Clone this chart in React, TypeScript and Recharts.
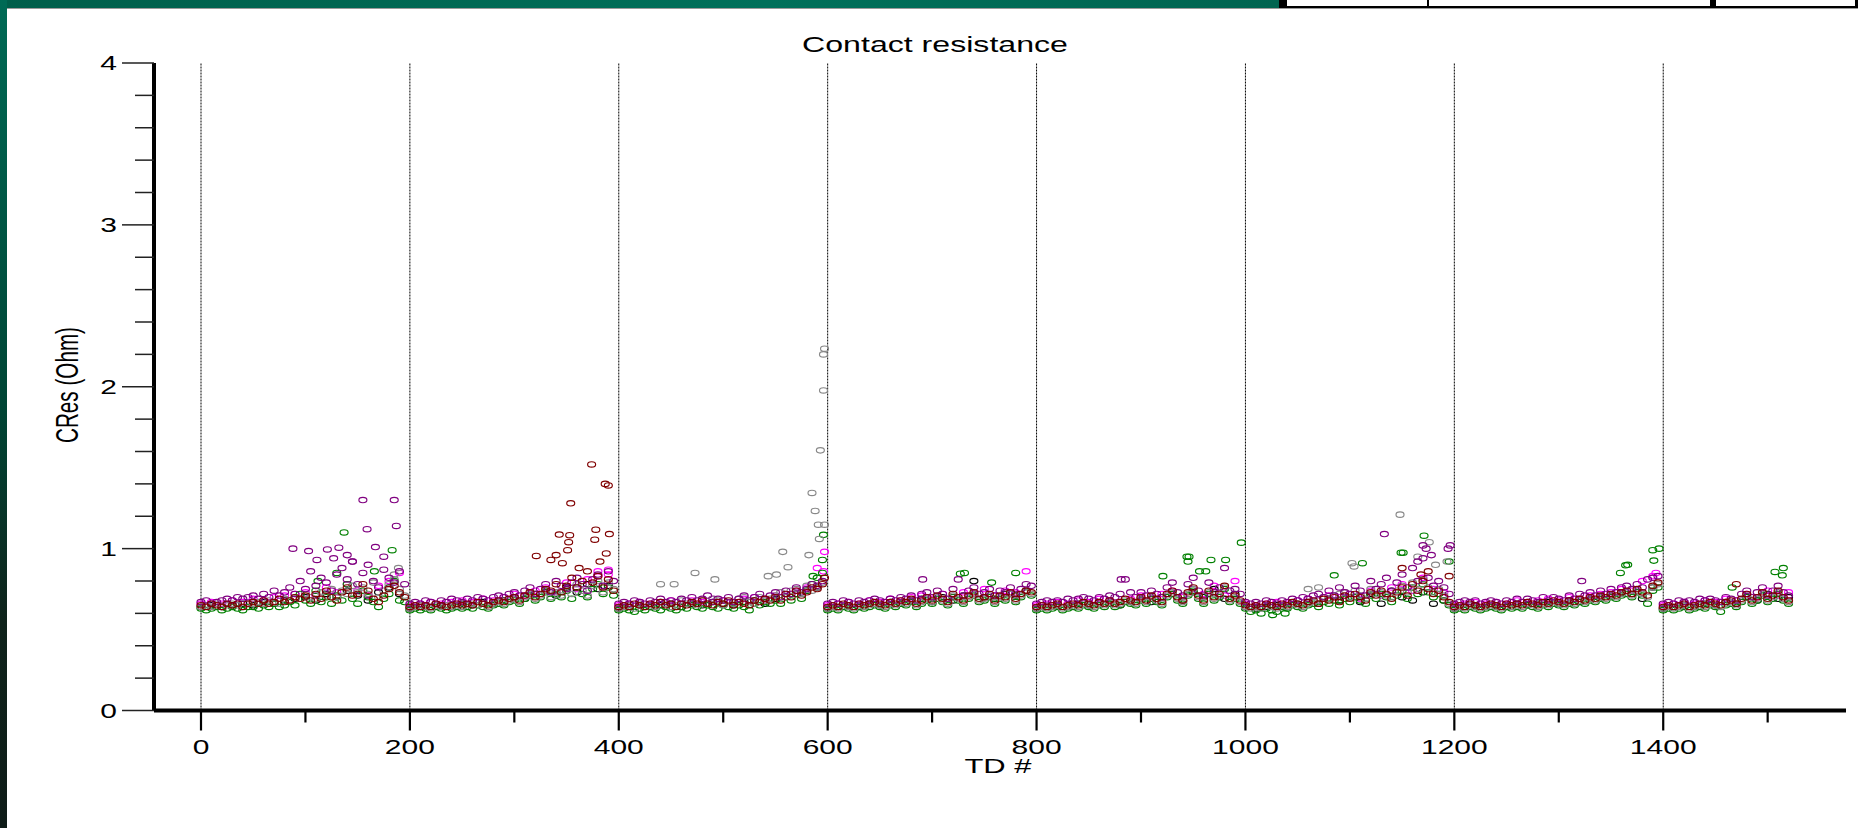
import React from "react";
import { ReferenceLine, Scatter, ScatterChart, XAxis, YAxis } from "recharts";

// TD sample grids
const TD5 = [
  0, 5, 10, 15, 20, 25, 30, 35, 40, 45, 50, 55, 60, 65, 70, 75, 80, 85, 90, 95,
  100, 105, 110, 115, 120, 125, 130, 135, 140, 145, 150, 155, 160, 165, 170, 175, 180, 185, 190, 195,
  200, 205, 210, 215, 220, 225, 230, 235, 240, 245, 250, 255, 260, 265, 270, 275, 280, 285, 290, 295,
  300, 305, 310, 315, 320, 325, 330, 335, 340, 345, 350, 355, 360, 365, 370, 375, 380, 385, 390, 395,
  400, 405, 410, 415, 420, 425, 430, 435, 440, 445, 450, 455, 460, 465, 470, 475, 480, 485, 490, 495,
  500, 505, 510, 515, 520, 525, 530, 535, 540, 545, 550, 555, 560, 565, 570, 575, 580, 585, 590, 595,
  600, 605, 610, 615, 620, 625, 630, 635, 640, 645, 650, 655, 660, 665, 670, 675, 680, 685, 690, 695,
  700, 705, 710, 715, 720, 725, 730, 735, 740, 745, 750, 755, 760, 765, 770, 775, 780, 785, 790, 795,
  800, 805, 810, 815, 820, 825, 830, 835, 840, 845, 850, 855, 860, 865, 870, 875, 880, 885, 890, 895,
  900, 905, 910, 915, 920, 925, 930, 935, 940, 945, 950, 955, 960, 965, 970, 975, 980, 985, 990, 995,
  1000, 1005, 1010, 1015, 1020, 1025, 1030, 1035, 1040, 1045, 1050, 1055, 1060, 1065, 1070, 1075, 1080, 1085, 1090, 1095,
  1100, 1105, 1110, 1115, 1120, 1125, 1130, 1135, 1140, 1145, 1150, 1155, 1160, 1165, 1170, 1175, 1180, 1185, 1190, 1195,
  1200, 1205, 1210, 1215, 1220, 1225, 1230, 1235, 1240, 1245, 1250, 1255, 1260, 1265, 1270, 1275, 1280, 1285, 1290, 1295,
  1300, 1305, 1310, 1315, 1320, 1325, 1330, 1335, 1340, 1345, 1350, 1355, 1360, 1365, 1370, 1375, 1380, 1385, 1390, 1395,
  1400, 1405, 1410, 1415, 1420, 1425, 1430, 1435, 1440, 1445, 1450, 1455, 1460, 1465, 1470, 1475, 1480, 1485, 1490, 1495,
  1500, 1505, 1510, 1515, 1520,
];

const TD10 = [
  0, 10, 20, 30, 40, 50, 60, 70, 80, 90, 100, 110, 120, 130, 140, 150, 160, 170, 180, 190,
  200, 210, 220, 230, 240, 250, 260, 270, 280, 290, 300, 310, 320, 330, 340, 350, 360, 370, 380, 390,
  400, 410, 420, 430, 440, 450, 460, 470, 480, 490, 500, 510, 520, 530, 540, 550, 560, 570, 580, 590,
  600, 610, 620, 630, 640, 650, 660, 670, 680, 690, 700, 710, 720, 730, 740, 750, 760, 770, 780, 790,
  800, 810, 820, 830, 840, 850, 860, 870, 880, 890, 900, 910, 920, 930, 940, 950, 960, 970, 980, 990,
  1000, 1010, 1020, 1030, 1040, 1050, 1060, 1070, 1080, 1090, 1100, 1110, 1120, 1130, 1140, 1150, 1160, 1170, 1180, 1190,
  1200, 1210, 1220, 1230, 1240, 1250, 1260, 1270, 1280, 1290, 1300, 1310, 1320, 1330, 1340, 1350, 1360, 1370, 1380, 1390,
  1400, 1410, 1420, 1430, 1440, 1450, 1460, 1470, 1480, 1490, 1500, 1510, 1520,
];

// contact resistance (Ohm) per site, on TD5 grid
const darkRed = [
  0.65, 0.64, 0.66, 0.65, 0.64, 0.66, 0.65, 0.66, 0.64, 0.66, 0.67, 0.66, 0.68, 0.66, 0.67, 0.69, 0.67, 0.68, 0.70, 0.69,
  0.71, 0.68, 0.72, 0.69, 0.74, 0.70, 0.68, 0.73, 0.76, 0.71, 0.72, 0.78, 0.74, 0.69, 0.67, 0.71, 0.75, 0.77, 0.73, 0.70,
  0.64, 0.65, 0.64, 0.65, 0.64, 0.66, 0.65, 0.64, 0.65, 0.66, 0.65, 0.66, 0.65, 0.67, 0.66, 0.65, 0.67, 0.68, 0.67, 0.69,
  0.70, 0.68, 0.71, 0.73, 0.70, 0.72, 0.75, 0.74, 0.78, 0.73, 0.77, 0.82, 0.76, 0.80, 0.86, 0.79, 0.83, 0.76, 0.81, 0.74,
  0.64, 0.65, 0.64, 0.66, 0.65, 0.64, 0.66, 0.65, 0.67, 0.65, 0.66, 0.64, 0.66, 0.65, 0.67, 0.66, 0.68, 0.66, 0.65, 0.67,
  0.66, 0.68, 0.65, 0.67, 0.66, 0.65, 0.68, 0.67, 0.69, 0.68, 0.70, 0.68, 0.72, 0.70, 0.74, 0.71, 0.73, 0.76, 0.75, 0.78,
  0.64, 0.65, 0.64, 0.66, 0.65, 0.64, 0.66, 0.65, 0.66, 0.67, 0.66, 0.65, 0.67, 0.66, 0.68, 0.67, 0.69, 0.66, 0.68, 0.70,
  0.68, 0.71, 0.69, 0.67, 0.72, 0.70, 0.68, 0.71, 0.73, 0.69, 0.70, 0.72, 0.68, 0.71, 0.70, 0.73, 0.69, 0.72, 0.74, 0.73,
  0.64, 0.65, 0.64, 0.65, 0.66, 0.64, 0.65, 0.66, 0.65, 0.67, 0.66, 0.65, 0.67, 0.66, 0.68, 0.66, 0.67, 0.69, 0.68, 0.67,
  0.70, 0.68, 0.71, 0.69, 0.67, 0.72, 0.74, 0.70, 0.68, 0.73, 0.76, 0.71, 0.68, 0.74, 0.70, 0.72, 0.77, 0.69, 0.71, 0.68,
  0.65, 0.64, 0.65, 0.64, 0.66, 0.65, 0.64, 0.66, 0.65, 0.67, 0.66, 0.65, 0.67, 0.68, 0.66, 0.69, 0.68, 0.70, 0.67, 0.71,
  0.69, 0.72, 0.70, 0.68, 0.73, 0.71, 0.74, 0.72, 0.69, 0.73, 0.76, 0.71, 0.78, 0.74, 0.80, 0.75, 0.72, 0.74, 0.70, 0.67,
  0.64, 0.65, 0.64, 0.66, 0.65, 0.64, 0.65, 0.66, 0.65, 0.64, 0.66, 0.65, 0.66, 0.65, 0.67, 0.66, 0.65, 0.67, 0.66, 0.68,
  0.67, 0.66, 0.68, 0.67, 0.69, 0.68, 0.70, 0.69, 0.71, 0.70, 0.72, 0.71, 0.73, 0.74, 0.72, 0.75, 0.73, 0.71, 0.77, 0.79,
  0.64, 0.65, 0.64, 0.65, 0.66, 0.64, 0.65, 0.66, 0.65, 0.67, 0.66, 0.65, 0.67, 0.68, 0.66, 0.69, 0.72, 0.68, 0.70, 0.73,
  0.69, 0.71, 0.74, 0.70, 0.68,
];

const purple = [
  0.67, 0.68, 0.66, 0.67, 0.68, 0.69, 0.68, 0.70, 0.69, 0.70, 0.71, 0.69, 0.72, 0.70, 0.74, 0.71, 0.73, 0.76, 0.72, 0.80,
  0.75, 0.86, 0.77, 0.82, 0.79, 0.74, 0.84, 0.88, 0.81, 0.92, 0.78, 0.85, 0.90, 0.80, 0.76, 0.87, 0.82, 0.79, 0.86, 0.78,
  0.66, 0.67, 0.66, 0.68, 0.67, 0.66, 0.68, 0.67, 0.69, 0.68, 0.67, 0.69, 0.68, 0.70, 0.69, 0.68, 0.70, 0.71, 0.70, 0.72,
  0.73, 0.71, 0.74, 0.76, 0.72, 0.75, 0.78, 0.73, 0.80, 0.77, 0.75, 0.79, 0.82, 0.78, 0.74, 0.81, 0.84, 0.77, 0.86, 0.80,
  0.66, 0.67, 0.66, 0.68, 0.67, 0.66, 0.68, 0.67, 0.69, 0.67, 0.68, 0.67, 0.69, 0.68, 0.70, 0.68, 0.69, 0.71, 0.67, 0.69,
  0.68, 0.70, 0.67, 0.69, 0.71, 0.68, 0.70, 0.72, 0.69, 0.71, 0.73, 0.70, 0.74, 0.72, 0.76, 0.73, 0.75, 0.78, 0.77, 0.80,
  0.66, 0.67, 0.66, 0.68, 0.67, 0.66, 0.68, 0.67, 0.68, 0.69, 0.68, 0.67, 0.69, 0.68, 0.70, 0.69, 0.71, 0.68, 0.72, 0.73,
  0.70, 0.74, 0.72, 0.69, 0.75, 0.81, 0.71, 0.74, 0.76, 0.72, 0.73, 0.75, 0.71, 0.74, 0.73, 0.76, 0.72, 0.75, 0.78, 0.77,
  0.66, 0.67, 0.68, 0.67, 0.68, 0.67, 0.69, 0.68, 0.69, 0.70, 0.69, 0.68, 0.70, 0.69, 0.71, 0.70, 0.72, 0.81, 0.73, 0.70,
  0.73, 0.71, 0.74, 0.72, 0.70, 0.76, 0.79, 0.73, 0.71, 0.78, 0.82, 0.74, 0.71, 0.79, 0.73, 0.76, 0.88, 0.74, 0.75, 0.72,
  0.67, 0.66, 0.67, 0.66, 0.68, 0.67, 0.66, 0.68, 0.67, 0.69, 0.68, 0.70, 0.69, 0.71, 0.72, 0.70, 0.74, 0.71, 0.76, 0.73,
  0.72, 0.77, 0.74, 0.71, 0.80, 0.75, 0.78, 0.82, 0.74, 0.79, 0.84, 0.76, 0.88, 0.80, 0.94, 0.82, 0.77, 0.80, 0.76, 0.72,
  0.66, 0.67, 0.68, 0.67, 0.68, 0.66, 0.67, 0.68, 0.67, 0.66, 0.68, 0.67, 0.69, 0.67, 0.69, 0.68, 0.67, 0.70, 0.68, 0.70,
  0.69, 0.68, 0.71, 0.69, 0.72, 0.71, 0.73, 0.71, 0.74, 0.72, 0.75, 0.73, 0.76, 0.77, 0.75, 0.78, 0.76, 0.81, 0.82, 0.83,
  0.66, 0.67, 0.66, 0.68, 0.67, 0.68, 0.67, 0.69, 0.68, 0.69, 0.68, 0.67, 0.70, 0.69, 0.68, 0.72, 0.74, 0.70, 0.73, 0.76,
  0.71, 0.74, 0.77, 0.73, 0.71,
];

const green = [
  0.63, 0.62, 0.63, 0.64, 0.62, 0.63, 0.64, 0.63, 0.62, 0.64, 0.64, 0.63, 0.65, 0.64, 0.66, 0.64, 0.65, 0.67, 0.65, 0.72,
  0.68, 0.66, 0.74, 0.67, 0.70, 0.66, 0.71, 0.68, 0.78, 0.69, 0.66, 0.74, 0.70, 0.67, 0.64, 0.69, 0.72, 0.80, 0.68, 0.67,
  0.62, 0.63, 0.62, 0.63, 0.62, 0.64, 0.63, 0.62, 0.63, 0.64, 0.63, 0.64, 0.63, 0.65, 0.64, 0.63, 0.65, 0.66, 0.65, 0.67,
  0.68, 0.66, 0.69, 0.71, 0.68, 0.70, 0.73, 0.69, 0.72, 0.70, 0.74, 0.69, 0.76, 0.72, 0.70, 0.75, 0.78, 0.72, 0.76, 0.71,
  0.62, 0.63, 0.62, 0.61, 0.63, 0.62, 0.64, 0.63, 0.62, 0.64, 0.63, 0.62, 0.64, 0.63, 0.65, 0.64, 0.63, 0.65, 0.64, 0.63,
  0.65, 0.64, 0.63, 0.65, 0.64, 0.62, 0.66, 0.65, 0.67, 0.66, 0.68, 0.66, 0.70, 0.68, 0.72, 0.69, 0.74, 0.78, 0.82, 0.85,
  0.62, 0.63, 0.62, 0.64, 0.63, 0.62, 0.64, 0.63, 0.64, 0.65, 0.64, 0.63, 0.65, 0.64, 0.66, 0.65, 0.67, 0.64, 0.66, 0.68,
  0.66, 0.69, 0.67, 0.65, 0.70, 0.68, 0.66, 0.69, 0.71, 0.67, 0.68, 0.70, 0.66, 0.69, 0.68, 0.72, 0.67, 0.70, 0.73, 0.71,
  0.62, 0.63, 0.62, 0.63, 0.64, 0.62, 0.63, 0.64, 0.63, 0.65, 0.64, 0.63, 0.65, 0.64, 0.66, 0.64, 0.65, 0.67, 0.66, 0.65,
  0.68, 0.66, 0.69, 0.67, 0.65, 0.70, 0.72, 0.68, 0.66, 0.71, 0.74, 0.69, 0.66, 0.72, 0.68, 0.70, 0.75, 0.67, 0.69, 0.66,
  0.63, 0.61, 0.62, 0.60, 0.63, 0.62, 0.61, 0.64, 0.63, 0.65, 0.64, 0.63, 0.65, 0.66, 0.64, 0.67, 0.66, 0.68, 0.65, 0.69,
  0.67, 0.70, 0.68, 0.66, 0.71, 0.69, 0.72, 0.70, 0.67, 0.71, 0.74, 0.69, 0.76, 0.72, 0.78, 0.73, 0.70, 0.72, 0.68, 0.65,
  0.62, 0.63, 0.62, 0.64, 0.63, 0.62, 0.63, 0.64, 0.63, 0.62, 0.64, 0.63, 0.64, 0.63, 0.65, 0.64, 0.63, 0.65, 0.64, 0.66,
  0.65, 0.64, 0.66, 0.65, 0.67, 0.66, 0.68, 0.67, 0.69, 0.68, 0.70, 0.69, 0.71, 0.72, 0.70, 0.73, 0.71, 0.66, 0.74, 0.76,
  0.62, 0.63, 0.62, 0.63, 0.64, 0.62, 0.63, 0.64, 0.63, 0.65, 0.64, 0.61, 0.65, 0.66, 0.64, 0.67, 0.70, 0.66, 0.68, 0.71,
  0.67, 0.69, 0.72, 0.68, 0.66,
];

const gray = [
  0.64, 0.65, 0.64, 0.66, 0.64, 0.65, 0.66, 0.65, 0.64, 0.66, 0.66, 0.67, 0.66, 0.68, 0.67, 0.66, 0.69, 0.68, 0.70, 0.69,
  0.72, 0.70, 0.69, 0.73, 0.71, 0.75, 0.70, 0.74, 0.72, 0.77, 0.73, 0.76, 0.72, 0.79, 0.70, 0.74, 0.78, 0.81, 0.75, 0.71,
  0.63, 0.64, 0.65, 0.64, 0.63, 0.65, 0.64, 0.65, 0.64, 0.65, 0.64, 0.65, 0.66, 0.65, 0.66, 0.64, 0.66, 0.67, 0.66, 0.68,
  0.69, 0.67, 0.70, 0.72, 0.69, 0.71, 0.74, 0.70, 0.73, 0.71, 0.75, 0.72, 0.78, 0.74, 0.71, 0.77, 0.80, 0.73, 0.79, 0.75,
  0.63, 0.64, 0.65, 0.63, 0.66, 0.64, 0.65, 0.64, 0.67, 0.66, 0.64, 0.65, 0.68, 0.66, 0.67, 0.65, 0.68, 0.66, 0.69, 0.68,
  0.65, 0.67, 0.66, 0.69, 0.70, 0.67, 0.66, 0.70, 0.68, 0.69, 0.71, 0.73, 0.70, 0.74, 0.75, 0.72, 0.77, 0.74, 0.76, 0.79,
  0.63, 0.64, 0.63, 0.65, 0.64, 0.63, 0.65, 0.64, 0.65, 0.66, 0.65, 0.64, 0.66, 0.65, 0.67, 0.66, 0.68, 0.65, 0.67, 0.69,
  0.67, 0.70, 0.68, 0.66, 0.71, 0.69, 0.67, 0.70, 0.72, 0.68, 0.69, 0.71, 0.67, 0.70, 0.69, 0.72, 0.68, 0.71, 0.73, 0.72,
  0.63, 0.64, 0.63, 0.64, 0.65, 0.63, 0.64, 0.65, 0.64, 0.66, 0.65, 0.64, 0.66, 0.65, 0.67, 0.65, 0.66, 0.68, 0.67, 0.66,
  0.69, 0.67, 0.70, 0.68, 0.66, 0.71, 0.73, 0.69, 0.67, 0.72, 0.75, 0.70, 0.67, 0.73, 0.69, 0.71, 0.76, 0.68, 0.70, 0.67,
  0.64, 0.63, 0.64, 0.63, 0.65, 0.64, 0.63, 0.65, 0.64, 0.66, 0.65, 0.64, 0.66, 0.67, 0.68, 0.70, 0.69, 0.71, 0.72, 0.73,
  0.70, 0.74, 0.71, 0.69, 0.75, 0.72, 0.73, 0.71, 0.70, 0.74, 0.77, 0.73, 0.79, 0.75, 0.81, 0.76, 0.73, 0.75, 0.71, 0.66,
  0.63, 0.64, 0.63, 0.65, 0.64, 0.63, 0.64, 0.65, 0.64, 0.63, 0.65, 0.64, 0.65, 0.64, 0.66, 0.65, 0.64, 0.66, 0.65, 0.67,
  0.66, 0.65, 0.67, 0.66, 0.68, 0.67, 0.69, 0.68, 0.70, 0.69, 0.71, 0.70, 0.72, 0.73, 0.71, 0.74, 0.72, 0.70, 0.76, 0.78,
  0.63, 0.64, 0.63, 0.64, 0.65, 0.63, 0.64, 0.65, 0.64, 0.66, 0.65, 0.64, 0.66, 0.67, 0.65, 0.68, 0.71, 0.67, 0.69, 0.72,
  0.68, 0.70, 0.73, 0.69, 0.67,
];

// on TD10 grid
const black = [
  0.64, 0.65, 0.64, 0.65, 0.66, 0.65, 0.67, 0.66, 0.68, 0.69, 0.70, 0.68, 0.72, 0.70, 0.74, 0.71, 0.68, 0.73, 0.76, 0.72,
  0.63, 0.64, 0.64, 0.65, 0.64, 0.66, 0.65, 0.67, 0.66, 0.68, 0.70, 0.69, 0.72, 0.74, 0.71, 0.76, 0.73, 0.78, 0.75, 0.77,
  0.63, 0.64, 0.65, 0.64, 0.65, 0.66, 0.64, 0.66, 0.65, 0.67, 0.66, 0.65, 0.67, 0.68, 0.66, 0.69, 0.70, 0.72, 0.74, 0.76,
  0.63, 0.64, 0.65, 0.64, 0.66, 0.65, 0.67, 0.66, 0.68, 0.69, 0.67, 0.70, 0.68, 0.71, 0.80, 0.70, 0.69, 0.72, 0.71, 0.74,
  0.63, 0.64, 0.65, 0.64, 0.66, 0.65, 0.67, 0.66, 0.65, 0.67, 0.69, 0.67, 0.70, 0.72, 0.68, 0.73, 0.70, 0.75, 0.69, 0.72,
  0.64, 0.63, 0.64, 0.65, 0.64, 0.66, 0.67, 0.66, 0.69, 0.68, 0.70, 0.67, 0.72, 0.66, 0.74, 0.70, 0.68, 0.73, 0.66, 0.68,
  0.63, 0.64, 0.65, 0.64, 0.65, 0.64, 0.66, 0.65, 0.66, 0.67, 0.66, 0.68, 0.67, 0.69, 0.70, 0.71, 0.73, 0.72, 0.69, 0.76,
  0.63, 0.64, 0.65, 0.64, 0.66, 0.65, 0.67, 0.66, 0.70, 0.68, 0.72, 0.69, 0.70,
];

const magenta = [
  0.66, 0.67, 0.66, 0.68, 0.67, 0.69, 0.68, 0.70, 0.71, 0.72, 0.73, 0.71, 0.76, 0.73, 0.78, 0.74, 0.71, 0.77, 0.80, 0.85,
  0.65, 0.66, 0.67, 0.66, 0.67, 0.68, 0.67, 0.69, 0.68, 0.70, 0.72, 0.71, 0.74, 0.76, 0.73, 0.79, 0.75, 0.81, 0.83, 0.87,
  0.65, 0.66, 0.67, 0.66, 0.67, 0.68, 0.66, 0.68, 0.67, 0.69, 0.68, 0.67, 0.69, 0.70, 0.68, 0.71, 0.72, 0.74, 0.76, 0.88,
  0.65, 0.66, 0.67, 0.66, 0.68, 0.67, 0.69, 0.68, 0.70, 0.71, 0.69, 0.72, 0.70, 0.73, 0.72, 0.75, 0.71, 0.74, 0.73, 0.86,
  0.65, 0.66, 0.67, 0.66, 0.68, 0.67, 0.69, 0.68, 0.67, 0.69, 0.71, 0.69, 0.72, 0.74, 0.70, 0.75, 0.72, 0.77, 0.71, 0.80,
  0.66, 0.65, 0.66, 0.67, 0.66, 0.68, 0.69, 0.68, 0.71, 0.70, 0.72, 0.69, 0.74, 0.71, 0.76, 0.78, 0.74, 0.82, 0.75, 0.73,
  0.65, 0.66, 0.67, 0.66, 0.67, 0.66, 0.68, 0.67, 0.68, 0.69, 0.68, 0.70, 0.69, 0.71, 0.72, 0.73, 0.75, 0.74, 0.80, 0.83,
  0.65, 0.66, 0.67, 0.66, 0.68, 0.67, 0.69, 0.68, 0.72, 0.70, 0.74, 0.71, 0.73,
];

// outliers [TD, Ohm]
const darkRedSpikes = [
  [374, 1.52], [387, 1.4], [390, 1.39], [354, 1.28], [343, 1.087], [353, 1.083], [352, 1.04], [378, 1.117],
  [377, 1.055], [391, 1.09], [351, 0.99], [340, 0.96], [321, 0.955], [335, 0.93], [346, 0.91], [362, 0.88],
  [382, 0.92], [388, 0.97], [597, 0.82], [1175, 0.86], [1150, 0.88], [1168, 0.84], [1470, 0.78], [1195, 0.83],
];
const purpleSpikes = [
  [88, 1.0], [103, 0.985], [121, 0.995], [132, 1.006], [155, 1.3], [159, 1.12], [167, 1.01], [185, 1.3],
  [187, 1.14], [111, 0.93], [127, 0.94], [140, 0.96], [145, 0.92], [175, 0.95], [1133, 1.09], [1170, 1.02],
  [1173, 1.0], [1196, 1.02], [1194, 1.0], [1322, 0.8], [881, 0.81], [691, 0.81], [1178, 0.96], [1165, 0.92],
];
const greenSpikes = [
  [137, 1.1], [183, 0.99], [130, 0.85], [166, 0.86], [112, 0.8], [596, 1.085], [595, 0.93], [586, 0.83],
  [727, 0.845], [731, 0.85], [757, 0.79], [780, 0.85], [944, 0.95], [946, 0.95], [945, 0.92], [967, 0.93],
  [981, 0.93], [962, 0.86], [956, 0.86], [921, 0.83], [996, 1.037], [1085, 0.835], [1112, 0.91], [1149, 0.975],
  [1151, 0.975], [1171, 1.08], [1195, 0.92], [1359, 0.85], [1364, 0.897], [1366, 0.9], [1390, 0.99], [1396, 1.0],
  [1391, 0.926], [1466, 0.76], [1507, 0.856], [1514, 0.835], [1515, 0.88], [1026, 0.59], [1038, 0.6],
];
const graySpikes = [
  [440, 0.78], [453, 0.78], [473, 0.85], [492, 0.81], [543, 0.83], [551, 0.84], [557, 0.98], [562, 0.885],
  [582, 0.96], [585, 1.344], [588, 1.233], [591, 1.148], [597, 1.148], [593, 1.607], [596, 1.977], [596, 2.2],
  [597, 2.235], [592, 1.06], [189, 0.88], [185, 0.84], [1148, 1.21], [1102, 0.91], [1104, 0.89], [1176, 1.04],
  [1165, 0.95], [1193, 0.92], [1182, 0.9], [1070, 0.76], [1060, 0.75],
];
const magentaSpikes = [[597, 0.98], [596, 0.86], [380, 0.86], [390, 0.84], [1393, 0.85]];

const X_TICKS = [0, 100, 200, 300, 400, 500, 600, 700, 800, 900, 1000, 1100, 1200, 1300, 1400, 1500];
const GRID_TD = [0, 200, 400, 600, 800, 1000, 1200, 1400];
const Y_TICKS = [
  0, 0.2, 0.4, 0.6, 0.8, 1, 1.2, 1.4, 1.6, 1.8, 2, 2.2, 2.4, 2.6, 2.8, 3, 3.2, 3.4, 3.6, 3.8, 4,
];

const FONT = "'Liberation Sans', Arial, Helvetica, sans-serif";

const toPoints = (grid: number[], vals: number[], spikes: number[][]) => [
  ...grid.map((td, i) => ({ td, v: vals[i] })).filter((p) => p.v !== undefined),
  ...spikes.map(([td, v]) => ({ td, v })),
];

// drawn bottom to top
const SERIES = [
  { name: "magenta", color: "#ff00ff", data: toPoints(TD10, magenta, magentaSpikes) },
  { name: "black", color: "#000000", data: toPoints(TD10, black, []) },
  { name: "green", color: "#008000", data: toPoints(TD5, green, greenSpikes) },
  { name: "gray", color: "#888888", data: toPoints(TD5, gray, graySpikes) },
  { name: "purple", color: "#800080", data: toPoints(TD5, purple, purpleSpikes) },
  { name: "darkred", color: "#800000", data: toPoints(TD5, darkRed, darkRedSpikes) },
];

const ring = (color: string) => (props: any) => (
  <ellipse cx={props.cx} cy={props.cy} rx={4} ry={2.7} fill="none" stroke={color} strokeWidth={1.15} />
);

const XTick = (props: any) => {
  const { x, y, payload } = props;
  const major = payload.value % 200 === 0;
  return (
    <g>
      <line x1={x} y1={y} x2={x} y2={y + (major ? 20 : 12)} stroke="#000" strokeWidth={2.2} />
      {major && (
        <text
          transform={`translate(${x},${y + 43}) scale(1.5,1)`}
          textAnchor="middle"
          fontSize={20}
          fontFamily={FONT}
          fill="#000"
        >
          {payload.value}
        </text>
      )}
    </g>
  );
};

const YTick = (props: any) => {
  const { x, y, payload } = props;
  const major = Math.abs(payload.value - Math.round(payload.value)) < 1e-6;
  return (
    <g>
      <line x1={x - (major ? 32 : 19)} y1={y} x2={x} y2={y} stroke="#222" strokeWidth={1.5} />
      {major && (
        <text
          transform={`translate(${x - 37},${y + 7}) scale(1.5,1)`}
          textAnchor="end"
          fontSize={20}
          fontFamily={FONT}
          fill="#000"
        >
          {Math.round(payload.value)}
        </text>
      )}
    </g>
  );
};

export default function App() {
  return (
    <div style={{ position: "absolute", left: 0, top: 0, width: 1858, height: 828, background: "#fff", overflow: "hidden" }}>
      <ScatterChart width={1858} height={828} margin={{ top: 63, right: 12, bottom: 0, left: 0 }}>
        <XAxis
          type="number"
          dataKey="td"
          domain={[-45, 1575]}
          ticks={X_TICKS}
          interval={0}
          tickSize={0}
          tickMargin={0}
          height={117.5}
          axisLine={{ stroke: "#000", strokeWidth: 4 }}
          tickLine={false}
          tick={<XTick />}
        />
        <YAxis
          type="number"
          dataKey="v"
          domain={[0, 4]}
          ticks={Y_TICKS}
          interval={0}
          tickSize={0}
          tickMargin={0}
          width={154}
          axisLine={{ stroke: "#000", strokeWidth: 4 }}
          tickLine={false}
          tick={<YTick />}
        />
        {GRID_TD.map((td) => (
          <ReferenceLine key={td} x={td} stroke="#000" strokeWidth={1} strokeDasharray="2 1" />
        ))}
        {SERIES.map((s) => (
          <Scatter
            key={s.name}
            name={s.name}
            data={s.data}
            shape={ring(s.color)}
            isAnimationActive={false}
          />
        ))}
      </ScatterChart>

      <svg
        width={1858}
        height={828}
        style={{ position: "absolute", left: 0, top: 0, pointerEvents: "none" }}
      >
        <defs>
          <linearGradient id="sideBar" x1="0" y1="0" x2="0" y2="1">
            <stop offset="0" stopColor="#006a55" />
            <stop offset="0.5" stopColor="#004434" />
            <stop offset="0.75" stopColor="#0f231b" />
            <stop offset="1" stopColor="#0e1c18" />
          </linearGradient>
          <linearGradient id="topBar" x1="0" y1="0" x2="1" y2="0">
            <stop offset="0" stopColor="#005e4a" />
            <stop offset="0.6" stopColor="#00705a" />
            <stop offset="1" stopColor="#006450" />
          </linearGradient>
        </defs>
        <rect x={0} y={0} width={1279} height={8} fill="url(#topBar)" />
        <rect x={1279} y={0} width={579} height={8} fill="#000" />
        <rect x={1287} y={0} width={140} height={6} fill="#fff" />
        <rect x={1429} y={0} width={281} height={6} fill="#fff" />
        <rect x={1716} y={0} width={139} height={6} fill="#fff" />
        <line x1={7} y1={8.5} x2={1858} y2={8.5} stroke="#9a9a9a" strokeWidth={1} />
        <rect x={0} y={0} width={7} height={828} fill="url(#sideBar)" />

        <text
          transform="translate(935,52) scale(1.46,1)"
          textAnchor="middle"
          fontSize={22}
          fontFamily={FONT}
          fill="#000"
        >
          Contact resistance
        </text>
        <text
          transform="translate(998,773) scale(1.55,1)"
          textAnchor="middle"
          fontSize={20}
          fontFamily={FONT}
          fill="#000"
        >
          TD #
        </text>
        <text
          transform="translate(67,385) scale(1.5,1) rotate(-90)"
          textAnchor="middle"
          dominantBaseline="central"
          fontSize={21}
          fontFamily={FONT}
          textLength={116}
          lengthAdjust="spacingAndGlyphs"
          fill="#000"
        >
          CRes (Ohm)
        </text>
      </svg>
    </div>
  );
}
